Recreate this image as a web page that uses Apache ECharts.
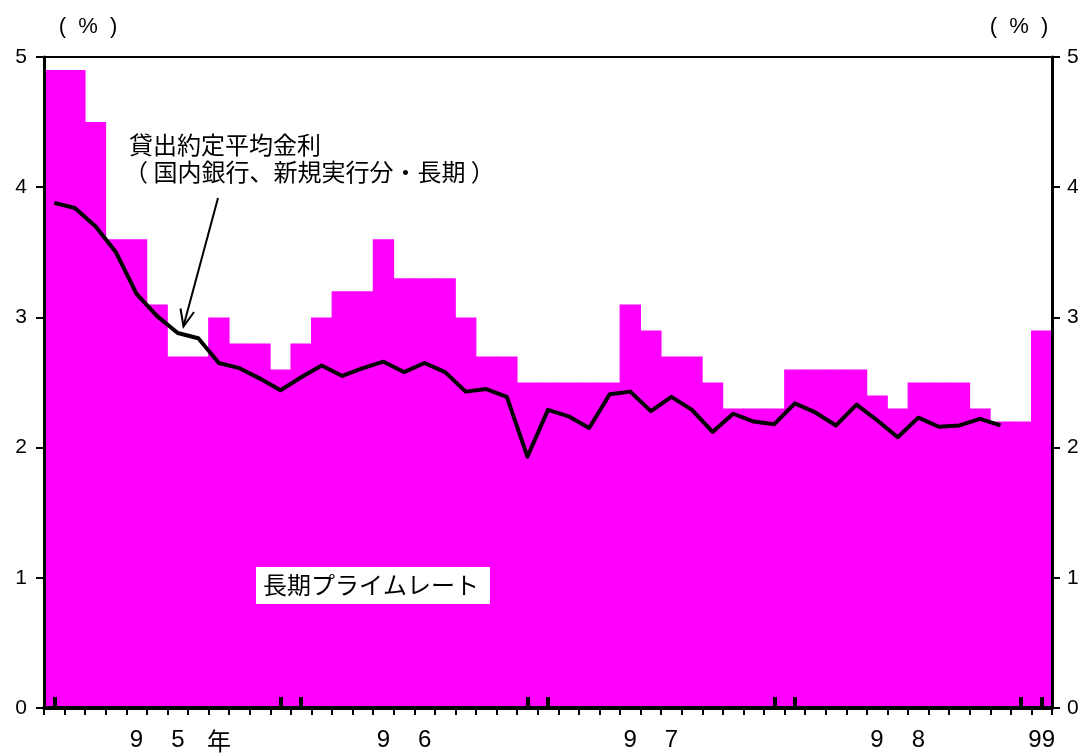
<!DOCTYPE html>
<html><head><meta charset="utf-8">
<script src="https://cdn.jsdelivr.net/npm/echarts@6/dist/echarts.min.js"></script>
<style>html,body{margin:0;padding:0;background:#fff}#c{width:1083px;height:753px}</style>
</head><body><div id="c"></div>
<script>
// Categories: monthly, Jan 1995 .. Jan 1999
const months = [];
for (let y = 1995; y <= 1999; y++) for (let m = 1; m <= 12; m++) { if (y === 1999 && m > 1) break; months.push(y + '/' + m); }

// 長期プライムレート (%)
const primeRate = [4.9,4.9,4.5,3.6,3.6,3.1,2.7,2.7,3.0,2.8,2.8,2.6,
                   2.8,3.0,3.2,3.2,3.6,3.3,3.3,3.3,3.0,2.7,2.7,2.5,
                   2.5,2.5,2.5,2.5,3.1,2.9,2.7,2.7,2.5,2.3,2.3,2.3,
                   2.6,2.6,2.6,2.6,2.4,2.3,2.5,2.5,2.5,2.3,2.2,2.2,
                   2.9];
// 貸出約定平均金利（国内銀行、新規実行分・長期） (%)
const loanRate = [3.88,3.84,3.70,3.50,3.18,3.01,2.88,2.84,2.65,2.61,2.53,2.44,
                  2.54,2.63,2.55,2.61,2.66,2.58,2.65,2.58,2.43,2.45,2.39,1.93,
                  2.29,2.24,2.15,2.41,2.43,2.28,2.39,2.29,2.12,2.26,2.20,2.18,
                  2.34,2.27,2.17,2.33,2.21,2.08,2.23,2.16,2.17,2.22,2.17,null,
                  null];

const yearLabelIndex = [5, 17, 29, 41, 48];
const yearLabels = [['9','5'], ['9','6'], ['9','7'], ['9','8'], ['99']];
const yearMarkIndex = [0, 11, 12, 23, 24, 35, 36, 47, 48];
const yTicks = [0, 1, 2, 3, 4, 5];

const FONT = "'Liberation Sans', Arial, 'Noto Sans CJK JP', sans-serif";
const CJK = "'Noto Sans CJK JP', 'Liberation Sans', sans-serif";

const chart = echarts.init(document.getElementById('c'), null, {renderer: 'canvas'});

const yAxisCommon = {
  type: 'value', min: yTicks[0], max: yTicks[yTicks.length - 1], interval: 1, z: 10,
  axisLine: {show: true, lineStyle: {color: '#000', width: 3}},
  axisTick: {show: true, inside: false, length: 8, lineStyle: {color: '#000', width: 2}},
  splitLine: {show: false},
  axisLabel: {color: '#000', fontSize: 21, fontFamily: FONT}
};

chart.setOption({
  animation: false,
  backgroundColor: '#fff',
  grid: {left: 44, right: 31, top: 57, bottom: 45, show: true, borderColor: '#000', borderWidth: 2, backgroundColor: 'transparent'},
  xAxis: [{
    type: 'category', data: months, boundaryGap: true, position: 'bottom', z: 10,
    axisLine: {show: true, onZero: false, lineStyle: {color: '#000', width: 4}},
    axisTick: {show: true, inside: false, length: 7, interval: 0, lineStyle: {color: '#000', width: 2}},
    axisLabel: {
      interval: (idx) => yearLabelIndex.indexOf(idx) >= 0,
      margin: 20, color: '#000', fontFamily: FONT, fontSize: 24,
      formatter: (v, idx) => {
        const k = yearLabelIndex.indexOf(idx);
        if (k < 0) return '';
        const parts = yearLabels[k];
        if (parts.length === 1) return '{n|' + parts[0] + '}';
        return parts.map(p => '{d|' + p + '}').join('');
      },
      rich: {
        d: {fontSize: 24, fontFamily: FONT, color: '#000', padding: [0, 14, 0, 14]},
        n: {fontSize: 24, fontFamily: FONT, color: '#000'}
      }
    }
  }, {
    type: 'category', data: months, boundaryGap: true, position: 'bottom', z: 11,
    axisLine: {show: false},
    axisLabel: {show: false},
    axisTick: {show: true, inside: true, alignWithLabel: true, length: 11,
      interval: (idx) => yearMarkIndex.indexOf(idx) >= 0,
      lineStyle: {color: '#000', width: 4}}
  }],
  yAxis: [
    Object.assign({}, yAxisCommon, {position: 'left', axisLabel: Object.assign({}, yAxisCommon.axisLabel, {margin: 17})}),
    Object.assign({}, yAxisCommon, {position: 'right', axisLabel: Object.assign({}, yAxisCommon.axisLabel, {margin: 15})})
  ],
  series: [{
    name: '長期プライムレート', type: 'bar', data: primeRate,
    barWidth: '104%', barGap: '-100%',
    itemStyle: {color: '#FF00FF'}, z: 1
  }, {
    name: '貸出約定平均金利', type: 'line', data: loanRate, connectNulls: false,
    symbol: 'none', lineStyle: {color: '#000', width: 4, join: 'round'}, z: 5
  }],
  graphic: [
    {type: 'text', style: {text: '(  %  )', x: 88, y: 27, align: 'center', verticalAlign: 'middle', fontSize: 22, fontFamily: FONT, fill: '#000'}},
    {type: 'text', style: {text: '(  %  )', x: 1019, y: 27, align: 'center', verticalAlign: 'middle', fontSize: 22, fontFamily: FONT, fill: '#000'}},
    {type: 'text', style: {text: '年', x: 219, y: 741, align: 'center', verticalAlign: 'middle', fontSize: 24, fontFamily: CJK, fill: '#000'}},
    {type: 'text', z: 10, style: {text: '貸出約定平均金利', x: 129, y: 145, align: 'left', verticalAlign: 'middle', fontSize: 24, fontFamily: CJK, fill: '#000'}},
    {type: 'text', z: 10, style: {text: '（ 国内銀行、新規実行分・長期 ）', x: 124, y: 172, align: 'left', verticalAlign: 'middle', fontSize: 24, fontFamily: CJK, fill: '#000'}},
    {type: 'line', z: 10, shape: {x1: 218, y1: 198, x2: 183.5, y2: 326}, style: {stroke: '#000', lineWidth: 2}},
    {type: 'polyline', z: 10, shape: {points: [[180.5, 308.5], [183.5, 326.5], [194, 312]]}, style: {stroke: '#000', lineWidth: 2, fill: null}},
    {type: 'rect', z: 10, shape: {x: 256, y: 567, width: 234, height: 37}, style: {fill: '#fff'}},
    {type: 'text', z: 11, style: {text: '長期プライムレート', x: 371, y: 585, align: 'center', verticalAlign: 'middle', fontSize: 24, fontFamily: CJK, fill: '#000'}}
  ]
});
</script></body></html>
